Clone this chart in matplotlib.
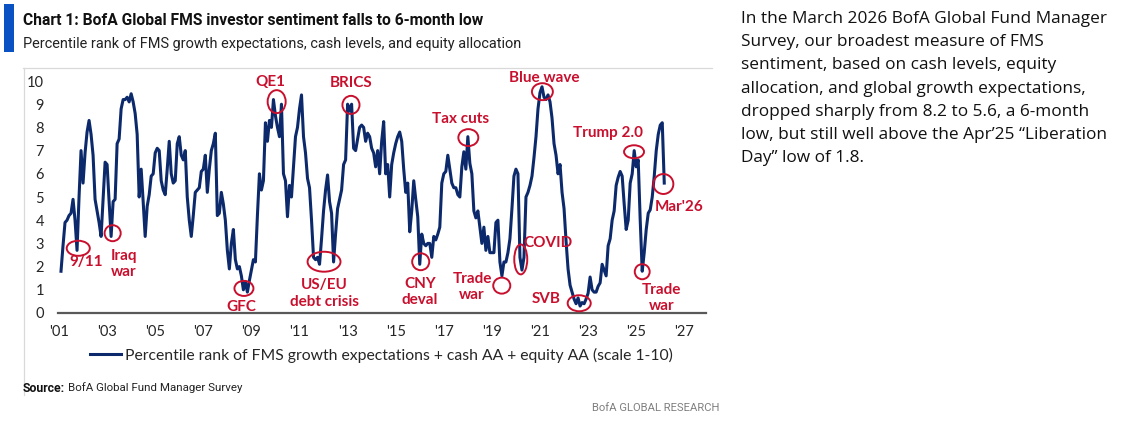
import numpy as np
import pandas as pd
import matplotlib
matplotlib.use("Agg")
import matplotlib.pyplot as plt
from matplotlib.patches import Ellipse, Rectangle
from matplotlib.lines import Line2D

# FMS sentiment indicator (scale 1-10), monthly, Feb 2001 - Mar 2026
v2001 = [1.8, 2.9, 3.9, 4.0, 4.2, 4.3, 4.9, 4.0, 2.7, 5.0, 7.0]
v2002 = [5.6, 6.9, 7.8, 8.3, 7.7, 6.8, 4.9, 4.4, 3.9, 3.3, 4.9, 6.5]
v2003 = [6.4, 4.8, 3.3, 4.8, 4.9, 7.3, 7.5, 8.8, 9.2, 9.2, 9.3, 9.1]
v2004 = [9.45, 9.1, 8.6, 7.7, 5.0, 6.2, 4.8, 3.3, 4.6, 5.1, 5.9, 6.0]
v2005 = [6.9, 7.1, 7.0, 5.7, 5.3, 5.1, 6.2, 7.4, 6.0, 5.6, 5.7, 7.3]
v2006 = [7.6, 6.8, 6.6, 7.0, 5.0, 4.0, 3.3, 4.2, 5.2, 5.3, 5.4, 6.1]
v2007 = [6.2, 6.8, 5.2, 6.2, 7.0, 7.3, 7.75, 4.2, 4.3, 5.2, 4.7, 4.0]
v2008 = [2.7, 1.9, 3.0, 3.6, 2.3, 1.9, 2.0, 1.6, 1.0, 1.35, 0.9, 1.4]
v2009 = [1.85, 2.3, 2.2, 4.2, 6.0, 5.3, 5.7, 8.2, 7.4, 8.3, 8.0, 9.2]
v2010 = [8.5, 8.0, 7.6, 9.0, 6.0, 5.7, 4.15, 5.5, 5.0, 6.3, 7.6, 8.0]
v2011 = [8.8, 9.4, 7.6, 6.9, 5.8, 5.4, 4.0, 2.4, 2.3, 2.4, 2.1, 3.2]
v2012 = [4.4, 5.3, 5.95, 4.8, 4.3, 2.2, 3.4, 4.5, 4.9, 5.3, 6.4, 6.6]
v2013 = [9.0, 8.7, 9.0, 7.1, 7.0, 7.5, 8.0, 8.1, 8.0, 7.4, 7.75, 7.6]
v2014 = [7.1, 6.9, 6.3, 7.0, 6.0, 7.4, 8.25, 6.0, 6.4, 5.0, 6.4, 6.9]
v2015 = [7.3, 7.6, 7.8, 7.4, 6.2, 5.2, 5.6, 3.5, 4.4, 5.7, 4.9, 4.15]
v2016 = [2.1, 3.4, 3.0, 2.9, 3.0, 3.0, 2.4, 3.3, 3.15, 3.4, 3.7, 5.6]
v2017 = [6.0, 6.1, 6.8, 6.2, 5.6, 5.4, 5.4, 5.1, 5.0, 6.3, 6.95, 6.2]
v2018 = [7.6, 6.45, 6.0, 4.4, 4.1, 4.4, 3.7, 3.0, 3.7, 2.7, 3.3, 2.6]
v2019 = [2.6, 2.6, 3.9, 4.0, 2.2, 1.6, 2.2, 2.2, 2.6, 3.2, 4.5, 5.9]
v2020 = [6.2, 6.0, 2.4, 1.85, 2.4, 5.0, 5.2, 5.5, 5.9, 6.7, 7.6, 8.8]
v2021 = [9.5, 9.75, 9.3, 9.2, 9.4, 9.1, 8.4, 7.3, 6.8, 6.0, 6.4, 5.2]
v2022 = [4.5, 3.1, 1.9, 1.2, 0.9, 0.6, 0.4, 0.65, 0.3, 0.45, 0.4, 0.6]
v2023 = [0.85, 1.55, 1.0, 0.9, 0.9, 1.15, 1.3, 2.1, 1.85, 1.6, 2.9, 3.2]
v2024 = [4.0, 4.4, 5.5, 5.85, 6.1, 5.9, 4.7, 3.6, 4.0, 5.6, 6.0, 7.0]
v2025 = [6.3, 6.6, 4.0, 1.8, 2.6, 3.6, 4.3, 4.45, 5.0, 5.9, 7.0, 7.7]
v2026 = [8.1, 8.2, 5.6]

values = (v2001 + v2002 + v2003 + v2004 + v2005 + v2006 + v2007 + v2008 + v2009
          + v2010 + v2011 + v2012 + v2013 + v2014 + v2015 + v2016 + v2017 + v2018
          + v2019 + v2020 + v2021 + v2022 + v2023 + v2024 + v2025 + v2026)

tick_years = list(range(2001, 2028, 2))
tick_labels = ["'%02d" % (y % 100) for y in tick_years]

# label, text x, text y, circle x, circle y, circle w, circle h (data units)
events = [
    ("9/11", 2002.12, 2.18, 2001.80, 2.79, 0.96, 0.65),
    ("Iraq\nwar", 2003.70, 2.11, 2003.23, 3.44, 0.67, 0.69),
    ("GFC", 2008.60, 0.26, 2008.69, 1.06, 0.79, 0.65),
    ("QE1", 2009.80, 9.97, 2010.05, 9.11, 0.75, 0.99),
    ("BRICS", 2013.13, 9.93, 2013.14, 8.97, 0.71, 0.78),
    ("US/EU\ndebt crisis", 2012.04, 0.84, 2012.02, 2.21, 1.37, 0.86),
    ("CNY\ndeval", 2016.01, 0.92, 2016.04, 2.21, 0.71, 0.73),
    ("Tax cuts", 2017.70, 8.36, 2018.02, 7.56, 0.83, 0.73),
    ("Trade\nwar", 2018.17, 1.13, 2019.41, 1.18, 0.71, 0.69),
    ("COVID", 2021.35, 3.03, 2020.20, 2.31, 0.54, 1.29),
    ("SVB", 2021.24, 0.59, 2022.63, 0.42, 0.96, 0.69),
    ("Blue wave", 2021.17, 10.12, 2021.10, 9.54, 0.87, 0.73),
    ("Trump 2.0", 2023.84, 7.75, 2024.91, 6.95, 0.83, 0.56),
    ("Mar'26", 2026.78, 4.58, 2026.13, 5.56, 0.83, 0.86),
    ("Trade\nwar", 2026.07, 0.63, 2025.25, 1.78, 0.62, 0.65),
]

title = "Chart 1: BofA Global FMS investor sentiment falls to 6-month low"
subtitle = "Percentile rank of FMS growth expectations, cash levels, and equity allocation"
legend_label = "Percentile rank of FMS growth expectations + cash AA + equity AA (scale 1-10)"
side_lines = [
    "In the March 2026 BofA Global Fund Manager",
    "Survey, our broadest measure of FMS",
    "sentiment, based on cash levels, equity",
    "allocation, and global growth expectations,",
    "dropped sharply from 8.2 to 5.6, a 6-month",
    "low, but still well above the Apr\u201925 \u201cLiberation",
    "Day\u201d low of 1.8.",
]

NAVY = "#0C2A6B"
RED = "#C8102E"
BAR_BLUE = "#0A52C4"
HEAD = ["Roboto", "DejaVu Sans"]
CHART = ["Lato", "DejaVu Sans"]
BODY = ["Open Sans", "DejaVu Sans"]

W, H = 1123, 423
def fx(x):
    return x / W
def fy(y):
    return 1 - y / H

dates = pd.date_range("2001-02-01", periods=len(values), freq="MS")
t = np.asarray(dates.year + (dates.month - 1) / 12.0)

fig = plt.figure(figsize=(W / 100, H / 100), dpi=100)
fig.patch.set_facecolor("white")
renderer = fig.canvas.get_renderer()

def fit(txt, width_px):
    # scale font size so the text spans the width seen in the reference
    w = txt.get_window_extent(renderer).width
    txt.set_fontsize(txt.get_fontsize() * width_px / w)
    return txt

# header
fig.add_artist(Rectangle((fx(4), fy(52)), 9.6 / W, 48.4 / H, transform=fig.transFigure,
                         color=BAR_BLUE, lw=0))
fit(fig.text(fx(23), fy(25), title, family=HEAD, fontsize=11.5, fontweight="bold",
             va="baseline", color="#111111"), 460)
fit(fig.text(fx(23), fy(48), subtitle, family=HEAD, fontsize=11.5, va="baseline",
             color="#222222"), 502)

# chart frame
fig.add_artist(Line2D([fx(23), fx(712)], [fy(68), fy(68)], color="#D9D9D9", lw=0.9))
fig.add_artist(Line2D([fx(23.5), fx(23.5)], [fy(68), fy(395)], color="#D9D9D9", lw=0.9))

ax = fig.add_axes([fx(58), fy(313), (706 - 58) / W, (313 - 69.4) / H])
ax.plot(t, values, color=NAVY, lw=2.2, solid_joinstyle="round", zorder=2)
ax.set_xlim(2001 - 1 / 24.05, 2001 + 647 / 24.05)
ax.set_ylim(0, 10.5)
ax.set_yticks(range(0, 11))
ax.set_xticks(tick_years)
ax.set_xticklabels(tick_labels)
for s in ["top", "right", "left"]:
    ax.spines[s].set_visible(False)
ax.spines["bottom"].set_color("#595959")
ax.spines["bottom"].set_linewidth(1.6)
ax.tick_params(axis="both", length=0, labelsize=10.5, labelcolor="#262626")
ax.tick_params(axis="y", pad=10)
ax.tick_params(axis="x", pad=9)
for lab in ax.get_xticklabels() + ax.get_yticklabels():
    lab.set_family(CHART)
ax.patch.set_alpha(0)

for label, tx, ty, cx, cy, cw, ch in events:
    ax.add_patch(Ellipse((cx, cy), cw, ch, fill=False, ec=RED, lw=1.4, zorder=3,
                         clip_on=False))
    ax.text(tx, ty, label, color=RED, family=CHART, fontsize=11, fontweight="bold",
            ha="center", va="center", multialignment="center", linespacing=1.2,
            clip_on=False)

handle = Line2D([], [], color=NAVY, lw=2.2)
fig.legend([handle], [legend_label], loc="center left", bbox_to_anchor=(fx(90), fy(355)),
           frameon=False, prop={"family": CHART, "size": 11.3}, handlelength=2.0,
           handletextpad=0.2, borderpad=0, borderaxespad=0, labelcolor="#262626")

# source / footer
src = fig.text(fx(23), fy(388), "Source:", family=HEAD, fontsize=8.5, fontweight="bold",
               va="center", color="#111111")
src_rest = fig.text(fx(23), fy(388), "BofA Global Fund Manager Survey", family=HEAD,
                    fontsize=8.5, va="center", color="#222222")
fit(src, 42)
fit(src_rest, 172)
src_rest.set_x((src.get_window_extent(renderer).x1 + 3) / W)
fit(fig.text(fx(720), fy(408), "BofA GLOBAL RESEARCH", family=HEAD, fontsize=9,
             ha="right", va="center", color="#7F7F7F"), 127)

# commentary on the right
for i, line in enumerate(side_lines):
    fig.text(fx(741), fy(22.7 + 23.3 * i), line, family=BODY, fontsize=12.4,
             va="baseline", color="#111111")

fig.savefig("out.png", dpi=100)
